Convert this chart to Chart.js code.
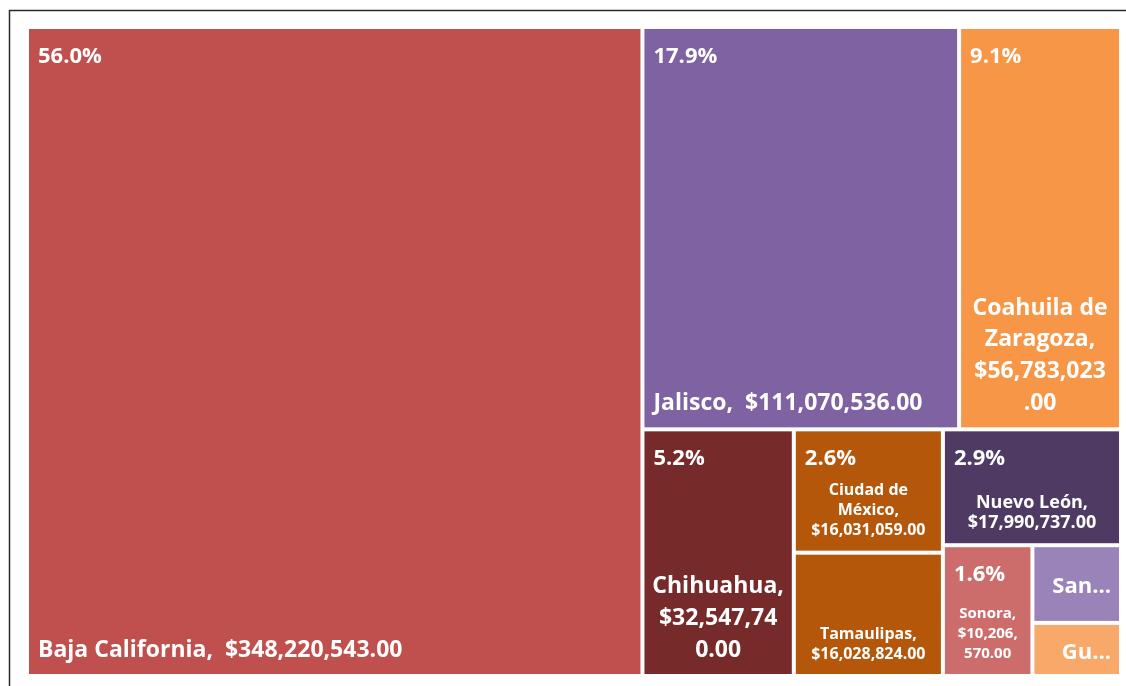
<!DOCTYPE html>
<html>

<head>
    <meta charset="UTF-8">
    <title>Importaciones por estado</title>
    <script src="https://cdn.jsdelivr.net/npm/chart.js@4.4.1/dist/chart.umd.min.js"></script>
    <style>
        body { margin: 0; background: #fff; }
        #wrap { position: relative; width: 1126px; height: 686px; }
    </style>
</head>

<body>
    <div id="wrap"><canvas id="treemap"></canvas></div>
</body>

<script>
    // montos por estado
    var estados = ['Baja California', 'Jalisco', 'Coahuila de Zaragoza', 'Chihuahua', 'Ciudad de México',
        'Tamaulipas', 'Nuevo León', 'Sonora', 'San Luis Potosí', 'Guanajuato'];
    var montos = [348220543, 111070536, 56783023, 32547740, 16031059,
        16028824, 17990737, 10206570, 6000000, 4100000];
    var totalNacional = 621800000;

    // agrupación de celdas: 'h' = lado a lado, 'v' = apiladas
    var arbol = ['h', 0, ['v', ['h', 1, 2], ['h', 3, ['v', 4, 5], ['v', 6, ['h', 7, ['v', 8, 9]]]]]];

    var colores = {
        'Baja California': '#C0504D',
        'Jalisco': '#7F62A1',
        'Coahuila de Zaragoza': '#F79646',
        'Chihuahua': '#762A2A',
        'Ciudad de México': '#B4570A',
        'Tamaulipas': '#B4570A',
        'Nuevo León': '#4E3A62',
        'Sonora': '#CC6D6C',
        'San Luis Potosí': '#9A83B8',
        'Guanajuato': '#F8A868'
    };
    var tamanoTexto = {
        'Ciudad de México': 16,
        'Tamaulipas': 16,
        'Nuevo León': 18,
        'Sonora': 15,
        'San Luis Potosí': 22,
        'Guanajuato': 22
    };
    var sinPorcentaje = ['Tamaulipas', 'San Luis Potosí', 'Guanajuato'];
    var fuente = '"Open Sans", sans-serif';

    function sumaNodo(nodo) {
        if (typeof nodo === 'number') return montos[nodo];
        return nodo.slice(1).reduce(function (s, n) { return s + sumaNodo(n); }, 0);
    }

    function repartir(nodo, x0, y0, x1, y1, salida) {
        if (typeof nodo === 'number') {
            salida.push({ i: nodo, x0: x0, y0: y0, x1: x1, y1: y1 });
            return salida;
        }
        var total = sumaNodo(nodo), acum = 0;
        nodo.slice(1).forEach(function (h) {
            var a = acum / total, b = (acum + sumaNodo(h)) / total;
            if (nodo[0] === 'h') repartir(h, x0 + (x1 - x0) * a, y0, x0 + (x1 - x0) * b, y1, salida);
            else repartir(h, x0, y0 + (y1 - y0) * a, x1, y0 + (y1 - y0) * b, salida);
            acum += sumaNodo(h);
        });
        return salida;
    }

    var celdas = repartir(arbol, 0, 0, 1, 1, []);

    function dinero(v) {
        return '$' + v.toLocaleString('en-US', { minimumFractionDigits: 2, maximumFractionDigits: 2 });
    }

    // la coma final de una palabra puede sobresalir del ancho
    function anchoUtil(ctx, s) {
        return ctx.measureText(s.replace(/,$/, '')).width;
    }

    function partirTexto(ctx, texto, ancho) {
        var palabras = texto.split(/\s+/);
        var lineas = [], actual = '';
        palabras.forEach(function (p) {
            var prueba = actual ? actual + ' ' + p : p;
            if (anchoUtil(ctx, prueba) <= ancho) { actual = prueba; return; }
            if (actual) lineas.push(actual);
            // palabra más ancha que la celda: se corta por caracteres
            while (anchoUtil(ctx, p) > ancho && p.length > 1) {
                var n = p.length;
                while (n > 1 && ctx.measureText(p.slice(0, n)).width > ancho) n--;
                // los decimales van juntos en la línea siguiente
                if (n > 1 && p[n - 1] === '.') n--;
                lineas.push(p.slice(0, n));
                p = p.slice(n);
            }
            actual = p;
        });
        if (actual) lineas.push(actual);
        return lineas;
    }

    var dibujarCeldas = {
        id: 'dibujarCeldas',
        beforeDraw: function (chart) {
            var ctx = chart.ctx;
            ctx.save();
            ctx.strokeStyle = '#2b2b2b';
            ctx.lineWidth = 1.5;
            ctx.beginPath();
            ctx.moveTo(9.5, chart.height);
            ctx.lineTo(9.5, 10.5);
            ctx.lineTo(chart.width, 10.5);
            ctx.stroke();
            ctx.restore();
        },
        afterDatasetsDraw: function (chart) {
            var ctx = chart.ctx, sx = chart.scales.x, sy = chart.scales.y;
            ctx.save();
            celdas.forEach(function (c) {
                var nombre = estados[c.i];
                var l = sx.getPixelForValue(c.x0) + 2, r = sx.getPixelForValue(c.x1) - 2;
                var t = sy.getPixelForValue(c.y0) + 2, b = sy.getPixelForValue(c.y1) - 2;
                var w = r - l, h = b - t;
                ctx.fillStyle = colores[nombre];
                ctx.fillRect(l, t, w, h);

                ctx.fillStyle = '#fff';
                var pad = 9;

                if (sinPorcentaje.indexOf(nombre) < 0) {
                    ctx.font = 'bold 22px ' + fuente;
                    ctx.textAlign = 'left';
                    ctx.textBaseline = 'alphabetic';
                    ctx.fillText((montos[c.i] / totalNacional * 100).toFixed(1) + '%', l + 9, t + 34);
                }

                var size = tamanoTexto[nombre] || 23;
                ctx.font = 'bold ' + size + 'px ' + fuente;
                ctx.textBaseline = 'middle';

                if (h < 100) {
                    // celda chica: solo el nombre recortado
                    var corto = nombre, ancho = w - 24;
                    if (ctx.measureText(corto).width > ancho) {
                        while (corto.length > 1 && ctx.measureText(corto.trim() + '...').width > ancho) corto = corto.slice(0, -1);
                        corto = corto.trim() + '...';
                    }
                    ctx.textAlign = 'right';
                    ctx.fillText(corto, r - 8, t + h / 2 + 3);
                    return;
                }

                var texto = nombre + ',  ' + dinero(montos[c.i]);
                var lineas = partirTexto(ctx, texto, w - 2 * pad);
                var grande = size >= 22;
                var alto = grande ? size * 1.38 : 20;
                var ultima = b - (grande ? 24 : 20);
                if (lineas.length === 1) {
                    ctx.textAlign = 'left';
                    ctx.fillText(texto, l + pad, ultima);
                } else {
                    ctx.textAlign = 'center';
                    lineas.forEach(function (ln, k) {
                        ctx.fillText(ln, l + w / 2, ultima - (lineas.length - 1 - k) * alto);
                    });
                }
            });
            ctx.restore();
        }
    };

    var chart = new Chart(document.getElementById('treemap'), {
        type: 'scatter',
        data: {
            datasets: [{ label: 'Importaciones', data: [] }]
        },
        options: {
            responsive: true,
            maintainAspectRatio: false,
            animation: false,
            layout: { padding: { left: 27, top: 27, right: 5, bottom: 10 } },
            scales: {
                x: { display: false, min: 0, max: 1 },
                y: { display: false, min: 0, max: 1, reverse: true }
            },
            plugins: {
                legend: { display: false },
                tooltip: { enabled: false }
            }
        },
        plugins: [dibujarCeldas]
    });
</script>

</html>
